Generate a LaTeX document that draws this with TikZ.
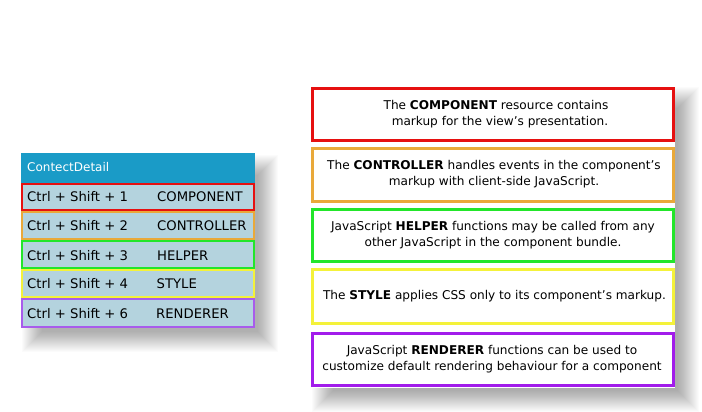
\documentclass[tikz,border=0pt]{standalone}
\usepackage{fontspec}
\setmainfont{DejaVu Sans}

\definecolor{hdrblue}{HTML}{1A9BC7}
\definecolor{rowfill}{HTML}{B4D3DE}
\definecolor{cRed}{HTML}{E61010}
\definecolor{cOrange}{HTML}{E9A93A}
\definecolor{cGreen}{HTML}{22E62A}
\definecolor{cYellow}{HTML}{F4F23A}
\definecolor{cPurpleL}{HTML}{A85CEB}
\definecolor{cPurple}{HTML}{A21CEB}

\tikzset{
  keytext/.style={anchor=west, inner sep=0pt, text=black,
    font=\fontsize{13.2}{16}\selectfont},
  desc/.style={align=center, inner sep=0pt, text=black,
    font=\fontsize{12.1}{16}\selectfont},
  rowbox/.style={fill=rowfill, line width=2pt},
  descbox/.style={fill=white, line width=3pt},
}

% soft drop shadow: stacked translucent rectangles grown one unit per layer
% #1,#2 = core top-left, #3,#4 = core bottom-right, #5 = number of layers
\newcommand{\softshadow}[5]{%
  \foreach \k in {0,...,#5}{%
    \fill[black, opacity=0.014] (#1-\k,#2-\k) rectangle (#3+\k,#4+\k);
  }%
}

\begin{document}
\begin{tikzpicture}[x=1pt, y=-1pt]
\useasboundingbox[fill=white] (0,0) rectangle (702,412);

% ---- shortcut table ----
\softshadow{42}{175}{258}{332}{20}
\fill[hdrblue] (21,153) rectangle (255,183);
\node[keytext, text=white, font=\fontsize{12}{14}\selectfont] (hdr) at (27,167.5) {ContectDetail};

\draw[rowbox, draw=cRed]     (22,184) rectangle (254,210);
\draw[rowbox, draw=cOrange]  (22,212) rectangle (254,239);
\draw[rowbox, draw=cGreen]   (22,241) rectangle (254,268);
\draw[rowbox, draw=cYellow]  (22,270) rectangle (254,297);
\draw[rowbox, draw=cPurpleL] (22,299) rectangle (254,327);

\node[keytext] (k1) at (27,197)   {Ctrl + Shift + 1};
\node[keytext] (n1) at (157,197)  {COMPONENT};
\node[keytext] (k2) at (27,226)   {Ctrl + Shift + 2};
\node[keytext] (n2) at (157,226)  {CONTROLLER};
\node[keytext] (k3) at (27,255.5) {Ctrl + Shift + 3};
\node[keytext] (n3) at (157,255.5){HELPER};
\node[keytext] (k4) at (27,284)   {Ctrl + Shift + 4};
\node[keytext] (n4) at (156.5,284){STYLE};
\node[keytext] (k5) at (27,313.5) {Ctrl + Shift + 6};
\node[keytext] (n5) at (156,313.5){RENDERER};

% ---- description panel ----
\softshadow{333}{108}{678}{391}{21}
\fill[white] (311,86) rectangle (675,388);

\draw[descbox, draw=cRed]    (312.5,88.5)  rectangle (673.5,140.5);
\draw[descbox, draw=cOrange] (312.5,148.5) rectangle (673.5,201.5);
\draw[descbox, draw=cGreen]  (312.5,209.5) rectangle (673.5,261.5);
\draw[descbox, draw=cYellow] (312.5,269.5) rectangle (673.5,323.5);
\draw[descbox, draw=cPurple] (312.5,333.5) rectangle (673.5,385.5);

\node[desc] (d1) at (496,114.5) {The \textbf{COMPONENT} resource contains\\\hspace*{8pt}markup for the view’s presentation.};
\node[desc] (d2) at (494,174)   {The \textbf{CONTROLLER} handles events in the component’s\\markup with client-side JavaScript.};
\node[desc] (d3) at (493,235.5) {JavaScript \textbf{HELPER} functions may be called from any\\other JavaScript in the component bundle.};
\node[desc] (d4) at (494.5,296) {The \textbf{STYLE} applies CSS only to its component’s markup.};
\node[desc] (d5) at (492,359.5) {JavaScript \textbf{RENDERER} functions can be used to\\customize default rendering behaviour for a component};
\end{tikzpicture}
\end{document}
